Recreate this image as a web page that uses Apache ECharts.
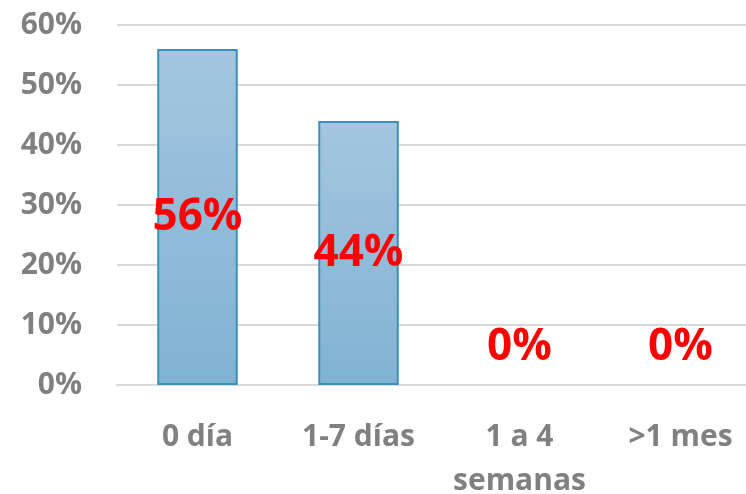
<!DOCTYPE html>
<html>
    <head>
        <meta charset="utf-8">
        <title>Chart</title>
        <script src="https://cdn.jsdelivr.net/npm/echarts@6/dist/echarts.min.js"></script>
        <style>
            html, body { margin: 0; padding: 0; background: #fff; }
            #chart1 { width: 746px; height: 494px; }
        </style>
    </head>
    <body>
        <div id="chart1"></div>
        <script type="text/javascript">
            // datos del grafico
            var categorias = ['0 día', '1-7 días', '1 a 4\nsemanas', '>1 mes'];
            var valores = [56, 44, 0, 0];
            var ticksY = [0, 10, 20, 30, 40, 50, 60];

            var myChart1 = echarts.init(document.getElementById('chart1'));
            var fuente = '"Open Sans", "DejaVu Sans", sans-serif';

            var datos = valores.map(function (v) {
                var item = { value: v };
                if (v === 0) {
                    // sin borde y etiqueta por encima de la base
                    item.itemStyle = { borderWidth: 0 };
                    item.label = { position: 'top', distance: 16 };
                }
                return item;
            });

            var option = {
                animation: false,
                grid: { left: 117, right: -15, top: 25, bottom: 109, outerBoundsMode: 'none', containLabel: false },
                xAxis: {
                    type: 'category',
                    data: categorias,
                    axisLine: { lineStyle: { color: '#d9d9d9', width: 2 } },
                    axisTick: { show: false },
                    axisLabel: {
                        color: '#808080', fontSize: 30, fontWeight: 'bold',
                        fontFamily: fuente, margin: 30, lineHeight: 44,
                        interval: 0, hideOverlap: false
                    }
                },
                yAxis: {
                    type: 'value',
                    min: ticksY[0],
                    max: ticksY[ticksY.length - 1],
                    interval: 10,
                    axisLine: { show: false },
                    axisTick: { show: false },
                    splitLine: { lineStyle: { color: '#d9d9d9', width: 2 } },
                    axisLabel: {
                        color: '#808080', fontSize: 30, fontWeight: 'bold',
                        fontFamily: fuente, margin: 35,
                        formatter: '{value}%'
                    }
                },
                series: [{
                    type: 'bar',
                    data: datos,
                    barWidth: '50%',
                    itemStyle: {
                        color: new echarts.graphic.LinearGradient(0, 0, 0, 1, [
                            { offset: 0, color: '#a4c6de' },
                            { offset: 1, color: '#80b2d3' }
                        ]),
                        borderColor: '#3e8fb8',
                        borderWidth: 2
                    },
                    label: {
                        show: true,
                        position: 'inside',
                        color: '#ff0000',
                        fontSize: 44,
                        fontWeight: 'bold',
                        fontFamily: fuente,
                        formatter: '{c}%'
                    }
                }]
            };
            myChart1.setOption(option);
        </script>
    </body>
</html>
